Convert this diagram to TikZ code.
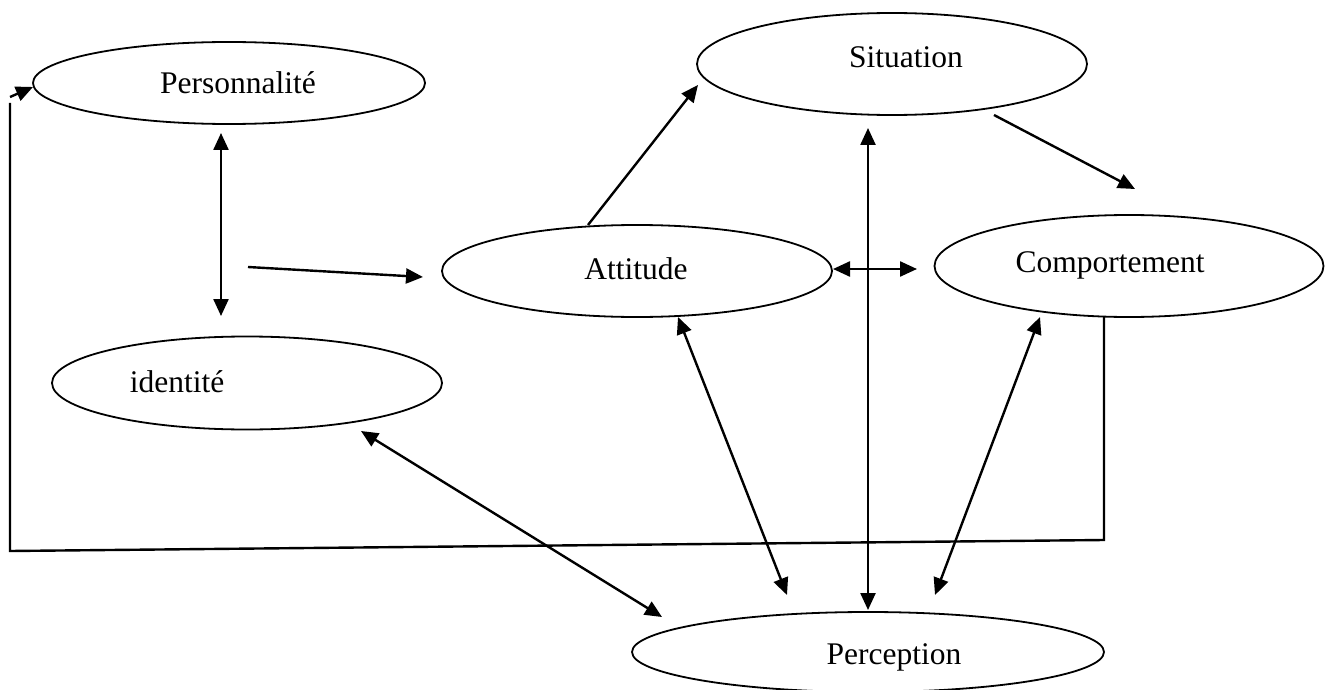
\documentclass[tikz,border=0pt]{standalone}
\usepackage{fontspec}
\setmainfont{Liberation Serif}
\usetikzlibrary{shapes.geometric,arrows.meta}
\begin{document}
\begin{tikzpicture}[x=1pt,y=-1pt,
  ell/.style={draw,ellipse,line width=1.8pt,inner sep=0pt,outer sep=0pt},
  lbl/.style={font=\fontsize{31.5}{36}\selectfont,inner sep=0pt,anchor=base},
  conn/.style={line width=2.4pt},
  tip/.tip={Triangle[length=17pt,width=15pt]},
  arr/.style={conn,-tip},
  darr/.style={conn,tip-tip}]
\useasboundingbox (0,0) rectangle (1325,690);
% ellipses
\node[ell,minimum width=392pt,minimum height=82pt]  (pers) at (229,83)  {};
\node[ell,minimum width=390pt,minimum height=102pt] (sit)  at (892,64)  {};
\node[ell,minimum width=390pt,minimum height=92pt]  (att)  at (637,271) {};
\node[ell,minimum width=389pt,minimum height=102pt] (comp) at (1129,266) {};
\node[ell,minimum width=390pt,minimum height=93pt]  (iden) at (247,383) {};
\node[ell,minimum width=472pt,minimum height=80pt]  (perc) at (868,652) {};
% labels
\node[lbl] (perst) at (238,94)  {Personnalité};
\node[lbl] (sitt)  at (906,68)  {Situation};
\node[lbl] (compt) at (1110,272) {Comportement};
\node[lbl] (ident) at (177,392) {identité};
\node[lbl] (attt)  at (636,279) {Attitude};
\node[lbl] (perct) at (894,664) {Perception};
% connector end points
\coordinate (p1) at (221,133);  \coordinate (i1) at (221,316);
\coordinate (f1) at (248,267);  \coordinate (a0) at (423,277);
\coordinate (a1) at (588,225);  \coordinate (s1) at (698,85);
\coordinate (s2) at (994,115);  \coordinate (c1) at (1135,189);
\coordinate (a2) at (833,269);  \coordinate (c2) at (917,269);
\coordinate (s3) at (868,128);  \coordinate (q1) at (868,610);
\coordinate (a3) at (678,317);  \coordinate (q2) at (787,595);
\coordinate (c3) at (1040,317); \coordinate (q3) at (935,595);
\coordinate (i2) at (361,431);  \coordinate (q4) at (662,617);
\coordinate (c4) at (1104,317); \coordinate (k1) at (1104,540);
\coordinate (k2) at (10,551);   \coordinate (k3) at (10,103);
\coordinate (k4) at (10,97);    \coordinate (p2) at (33,87);
% connectors
\draw[darr] (p1) -- (i1);
\draw[arr]  (f1) -- (a0);
\draw[arr]  (a1) -- (s1);
\draw[arr]  (s2) -- (c1);
\draw[darr] (a2) -- (c2);
\draw[darr] (s3) -- (q1);
\draw[darr] (a3) -- (q2);
\draw[darr] (c3) -- (q3);
\draw[darr] (i2) -- (q4);
\draw[conn] (c4) -- (k1) -- (k2) -- (k3);
\draw[arr]  (k4) -- (p2);
\end{tikzpicture}
\end{document}
